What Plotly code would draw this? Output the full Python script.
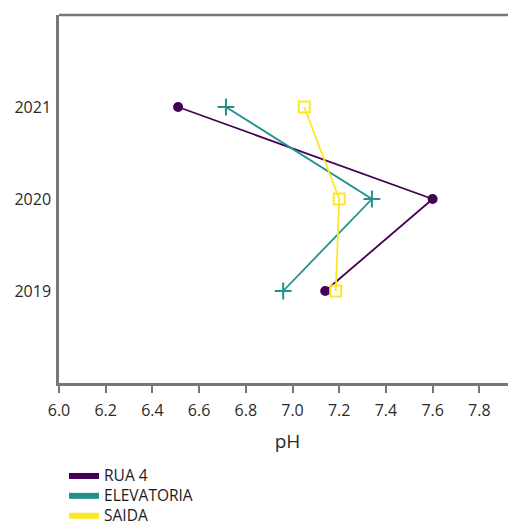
import plotly.graph_objects as go

years = [2019, 2020, 2021]
rua4 = [7.14, 7.60, 6.51]
elevatoria = [6.96, 7.34, 6.715]
saida = [7.185, 7.20, 7.05]
x_ticks = [6.0, 6.2, 6.4, 6.6, 6.8, 7.0, 7.2, 7.4, 7.6, 7.8]
y_ticks = [2019, 2020, 2021]

series = [
    ("RUA 4", rua4, "#440154", dict(symbol="circle", size=10)),
    ("ELEVATORIA", elevatoria, "#21918c", dict(symbol="cross-thin", size=12, line=dict(width=2, color="#21918c"))),
    ("SAIDA", saida, "#fde725", dict(symbol="square-open", size=11, line=dict(width=2, color="#fde725"))),
]

fig = go.Figure()
for name, vals, color, marker in series:
    fig.add_trace(go.Scatter(
        x=vals, y=years, mode="lines+markers", name=name,
        line=dict(color=color, width=1.8),
        marker=dict(color=color, **marker),
        showlegend=False,
    ))
for name, vals, color, marker in series:
    fig.add_trace(go.Scatter(
        x=[None], y=[None], mode="lines",
        name=f'<span style="font-size:15.5px">{name}</span>',
        line=dict(color=color, width=6),
        showlegend=True,
    ))

axis_col = "#777777"
fig.update_layout(
    width=508, height=517,
    margin=dict(l=51, r=0, t=7, b=142, autoexpand=False),
    paper_bgcolor="white", plot_bgcolor="white",
    font=dict(family="Open Sans, Segoe UI, sans-serif", size=16, color="#2a2a2a"),
    xaxis=dict(
        range=[6.0, 7.957], tickvals=x_ticks, ticktext=[f"{v:.1f}" for v in x_ticks],
        showgrid=False, zeroline=False,
        showline=True, linecolor=axis_col, linewidth=2.5, mirror=False,
        ticks="outside", ticklen=7, tickwidth=1.5, tickcolor=axis_col,
        ticklabelstandoff=4,
        title=dict(text="pH", standoff=15),
        automargin=False,
    ),
    yaxis=dict(
        range=[2018, 2022], tickvals=y_ticks, ticktext=[str(v) for v in y_ticks],
        showgrid=False, zeroline=False,
        showline=True, linecolor=axis_col, linewidth=2.5,
        ticks="", ticklabelstandoff=2, automargin=False,
    ),
    legend=dict(
        x=0.011, y=-0.212,
        xanchor="left", yanchor="top",
        font=dict(size=13, color="#1a1a1a"), tracegroupgap=0,
        itemwidth=30,
    ),
    shapes=[dict(type="line", xref="paper", yref="paper", x0=0, x1=1, y0=1, y1=1,
                 line=dict(color=axis_col, width=2.5))],
)

fig.write_html("out.html")
